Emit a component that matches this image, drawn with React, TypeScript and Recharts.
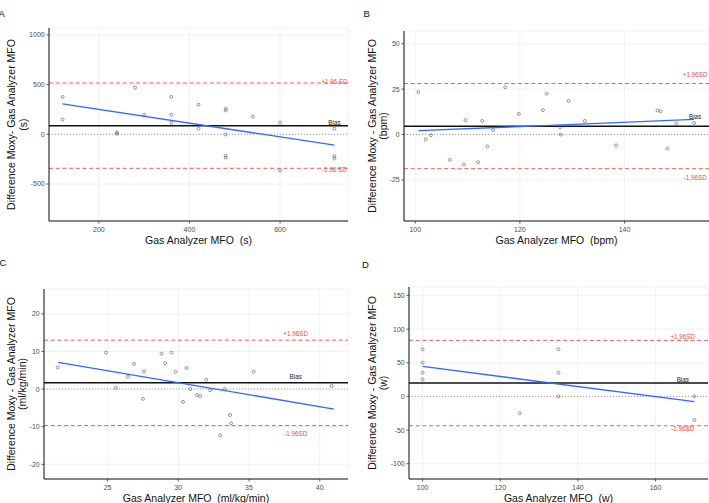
import React from "react";
import { CartesianGrid, ReferenceLine, Scatter, ScatterChart, XAxis, YAxis } from "recharts";

const FONT = '"Liberation Sans", Arial, Helvetica, sans-serif';
const RED = "#e0504c";
const BLUE = "#3366ff";

// A: time (s)
const aX = [120, 120, 240, 240, 280, 300, 360, 360, 360, 420, 420, 480, 480, 480, 480, 480, 540, 600, 600, 720, 720, 720];
const aY = [376, 148, 20, 5, 468, 197, 376, 197, 117, 298, 56, 258, 240, -2, -216, -236, 177, 117, -362, 56, -220, -242];
const aFitX = [120, 720];
const aFitY = [306, -109];
const aStats = [86, 516, -342]; // bias, +1.96SD, -1.96SD

// B: heart rate (bpm)
const bX = [100.6, 102.0, 103.0, 106.6, 109.3, 109.6, 112.0, 112.8, 113.8, 114.9, 117.2, 119.8, 124.4, 125.1, 127.7, 127.8, 129.3, 132.4, 138.4, 146.3, 146.9, 148.2, 149.9, 153.3];
const bY = [23.4, -2.6, -0.4, -13.9, -16.5, 7.9, -15.2, 7.5, -6.6, 2.4, 26.0, 11.4, 13.4, 22.5, 4.0, 0.0, 18.5, 7.5, -6.0, 13.2, 12.8, -7.7, 6.0, 6.4];
const bFitX = [100.6, 153.3];
const bFitY = [2.1, 8.3];
const bStats = [4.6, 28.1, -18.8];

// C: VO2 (ml/kg/min)
const cX = [21.47, 24.88, 25.58, 26.43, 26.87, 27.5, 27.57, 28.81, 29.07, 29.52, 29.8, 30.33, 30.57, 30.85, 31.32, 31.55, 31.97, 32.25, 32.96, 33.28, 33.66, 33.73, 35.32, 40.84];
const cY = [5.75, 9.7, 0.35, 3.3, 6.7, -2.6, 4.7, 9.4, 6.9, 9.7, 4.6, -3.4, 5.6, 0.0, -1.6, -1.9, 2.5, -0.3, -12.3, 0.0, -6.9, -9.1, 4.6, 0.8];
const cFitX = [21.5, 41];
const cFitY = [7.1, -5.3];
const cStats = [1.7, 13.0, -9.7];

// D: power (w)
const dX = [100, 100, 100, 100, 125, 135, 135, 135, 170, 170];
const dY = [70, 50, 35, 25, -25, 70, 35, 0, 0, -35];
const dFitX = [100, 170];
const dFitY = [44.6, -7.9];
const dStats = [19.8, 83.2, -43.6];

type Layout = {
  ox: number; oy: number; w: number; h: number;
  left: number; right: number; top: number; bottom: number;
  letterX: number; letterY: number; titleX: number;
};

type PanelProps = {
  letter: string;
  unit: string;
  dash: string;
  xs: number[]; ys: number[];
  fitX: number[]; fitY: number[];
  stats: number[];
  sdText: string[];
  labelX: number;
  labelDy: number[];
  xDomain: number[]; yDomain: number[];
  xTicks: number[]; yTicks: number[];
  layout: Layout;
};

function Panel(p: PanelProps) {
  const L = p.layout;
  const points = p.xs.map((x, i) => ({ x, y: p.ys[i] }));
  const fit = p.fitX.map((x, i) => ({ x, y: p.fitY[i] }));
  const labels = [
    { x: p.labelX, y: p.stats[1], text: p.sdText[0], dy: p.labelDy[0], color: RED },
    { x: p.labelX, y: p.stats[0], text: "Bias", dy: p.labelDy[1], color: "#222" },
    { x: p.labelX, y: p.stats[2], text: p.sdText[1], dy: p.labelDy[2], color: RED },
  ];
  const xAxisH = 20;
  const margin = {
    top: L.top - L.oy,
    right: L.ox + L.w - L.right,
    bottom: L.oy + L.h - L.bottom - xAxisH,
    left: 0,
  };
  const midY = (L.top + L.bottom) / 2 - L.oy;
  const midX = (L.left + L.right) / 2 - L.ox;
  const tick = { fontSize: 7, fill: "#4d4d4d", fontFamily: FONT };

  return (
    <div style={{ position: "absolute", left: L.ox, top: L.oy, width: L.w, height: L.h }}>
      <ScatterChart width={L.w} height={L.h} margin={margin}>
        <CartesianGrid stroke="#ebebeb" strokeWidth={0.7} />
        <XAxis
          type="number"
          dataKey="x"
          domain={p.xDomain}
          ticks={p.xTicks}
          height={xAxisH}
          tick={tick}
          tickSize={2.5}
          tickMargin={4}
          axisLine={{ stroke: "#111", strokeWidth: 1 }}
          tickLine={{ stroke: "#333", strokeWidth: 0.8 }}
        />
        <YAxis
          type="number"
          dataKey="y"
          domain={p.yDomain}
          ticks={p.yTicks}
          width={L.left - L.ox}
          tick={tick}
          tickSize={2.5}
          tickMargin={1.8}
          axisLine={{ stroke: "#111", strokeWidth: 1 }}
          tickLine={{ stroke: "#333", strokeWidth: 0.8 }}
        />
        <ReferenceLine y={0} stroke="#8a8a8a" strokeWidth={0.8} strokeDasharray="1 2" />
        <ReferenceLine y={p.stats[1]} stroke={RED} strokeWidth={0.9} strokeDasharray="4 2.7" />
        <ReferenceLine y={p.stats[2]} stroke={RED} strokeWidth={0.9} strokeDasharray="4 2.7" />
        <ReferenceLine y={p.stats[0]} stroke="#111" strokeWidth={1.6} />
        <Scatter
          data={fit}
          isAnimationActive={false}
          line={{ stroke: BLUE, strokeWidth: 1.3 }}
          shape={() => <g />}
        />
        <Scatter
          data={points}
          isAnimationActive={false}
          shape={(s: any) => (
            <circle cx={s.cx} cy={s.cy} r={1.5} fill="none" stroke="#555" strokeWidth={0.6} />
          )}
        />
        <Scatter
          data={labels}
          isAnimationActive={false}
          shape={(s: any) => (
            <text
              x={s.cx}
              y={s.cy + s.payload.dy}
              textAnchor="middle"
              dominantBaseline="central"
              fontSize={6.3}
              fontFamily={FONT}
              fill={s.payload.color}
            >
              {s.payload.text}
            </text>
          )}
        />
      </ScatterChart>
      <svg
        width={L.w}
        height={L.h}
        style={{ position: "absolute", left: 0, top: 0, pointerEvents: "none" }}
        fontFamily={FONT}
      >
        <text x={L.letterX - L.ox} y={L.letterY - L.oy} fontSize={9.5} fill="#111">
          {p.letter}
        </text>
        <g transform={`translate(${L.titleX - L.ox}, ${midY}) rotate(-90)`}>
          <text x={0} y={0} textAnchor="middle" dominantBaseline="central" fontSize={10.5} fill="#111">
            {p.dash}
          </text>
          <text x={0} y={11.5} textAnchor="middle" dominantBaseline="central" fontSize={10.5} fill="#111">
            {p.unit}
          </text>
        </g>
        <text
          x={midX}
          y={L.bottom - L.oy + 18.5}
          textAnchor="middle"
          dominantBaseline="central"
          fontSize={10.5}
          fill="#111"
          style={{ whiteSpace: "pre" }}
        >
          {`Gas Analyzer MFO  ${p.unit}`}
        </text>
      </svg>
    </div>
  );
}

export default function App() {
  return (
    <div style={{ position: "absolute", left: 0, top: 0, width: 709, height: 503, background: "#fff", overflow: "hidden" }}>
      <Panel
        letter="A"
        unit="(s)"
        dash="Difference Moxy- Gas Analyzer MFO"
        xs={aX} ys={aY} fitX={aFitX} fitY={aFitY} stats={aStats}
        sdText={["+1.96 SD", "-1.96 SD"]}
        labelX={720}
        labelDy={[-1.5, -3.5, 0.8]}
        xDomain={[90, 750]} yDomain={[-872, 1069]}
        xTicks={[200, 400, 600]} yTicks={[-500, 0, 500, 1000]}
        layout={{ ox: 0, oy: 0, w: 354, h: 250, left: 49, right: 348, top: 28, bottom: 221, letterX: -1.5, letterY: 17, titleX: 11 }}
      />
      <Panel
        letter="B"
        unit="(bpm)"
        dash="Difference Moxy - Gas Analyzer MFO"
        xs={bX} ys={bY} fitX={bFitX} fitY={bFitY} stats={bStats}
        sdText={["+1.96SD", "-1.96SD"]}
        labelX={153.5}
        labelDy={[-8.7, -9.3, 9]}
        xDomain={[97.85, 156.15]} yDomain={[-47.6, 57]}
        xTicks={[100, 120, 140]} yTicks={[-25, 0, 25, 50]}
        layout={{ ox: 355, oy: 0, w: 354, h: 250, left: 404, right: 709, top: 31, bottom: 221, letterX: 363.5, letterY: 17.3, titleX: 371.7 }}
      />
      <Panel
        letter="C"
        unit="(ml/kg/min)"
        dash="Difference Moxy - Gas Analyzer MFO"
        xs={cX} ys={cY} fitX={cFitX} fitY={cFitY} stats={cStats}
        sdText={["+1.96SD", "-1.96SD"]}
        labelX={38.3}
        labelDy={[-6.7, -6.6, 8.3]}
        xDomain={[20.5, 42]} yDomain={[-23.9, 26.6]}
        xTicks={[25, 30, 35, 40]} yTicks={[-20, -10, 0, 10, 20]}
        layout={{ ox: 0, oy: 250, w: 354, h: 253, left: 44, right: 348, top: 289, bottom: 479, letterX: -0.5, letterY: 266, titleX: 10.7 }}
      />
      <Panel
        letter="D"
        unit="(w)"
        dash="Difference Moxy - Gas Analyzer MFO"
        xs={dX} ys={dY} fitX={dFitX} fitY={dFitY} stats={dStats}
        sdText={["+1.96SD", "-1.96SD"]}
        labelX={167}
        labelDy={[-3.4, -3.3, 2.3]}
        xDomain={[96.5, 173.5]} yDomain={[-122.7, 162.5]}
        xTicks={[100, 120, 140, 160]} yTicks={[-100, -50, 0, 50, 100, 150]}
        layout={{ ox: 355, oy: 250, w: 354, h: 253, left: 409, right: 708, top: 287, bottom: 479, letterX: 362, letterY: 268, titleX: 371.7 }}
      />
    </div>
  );
}
